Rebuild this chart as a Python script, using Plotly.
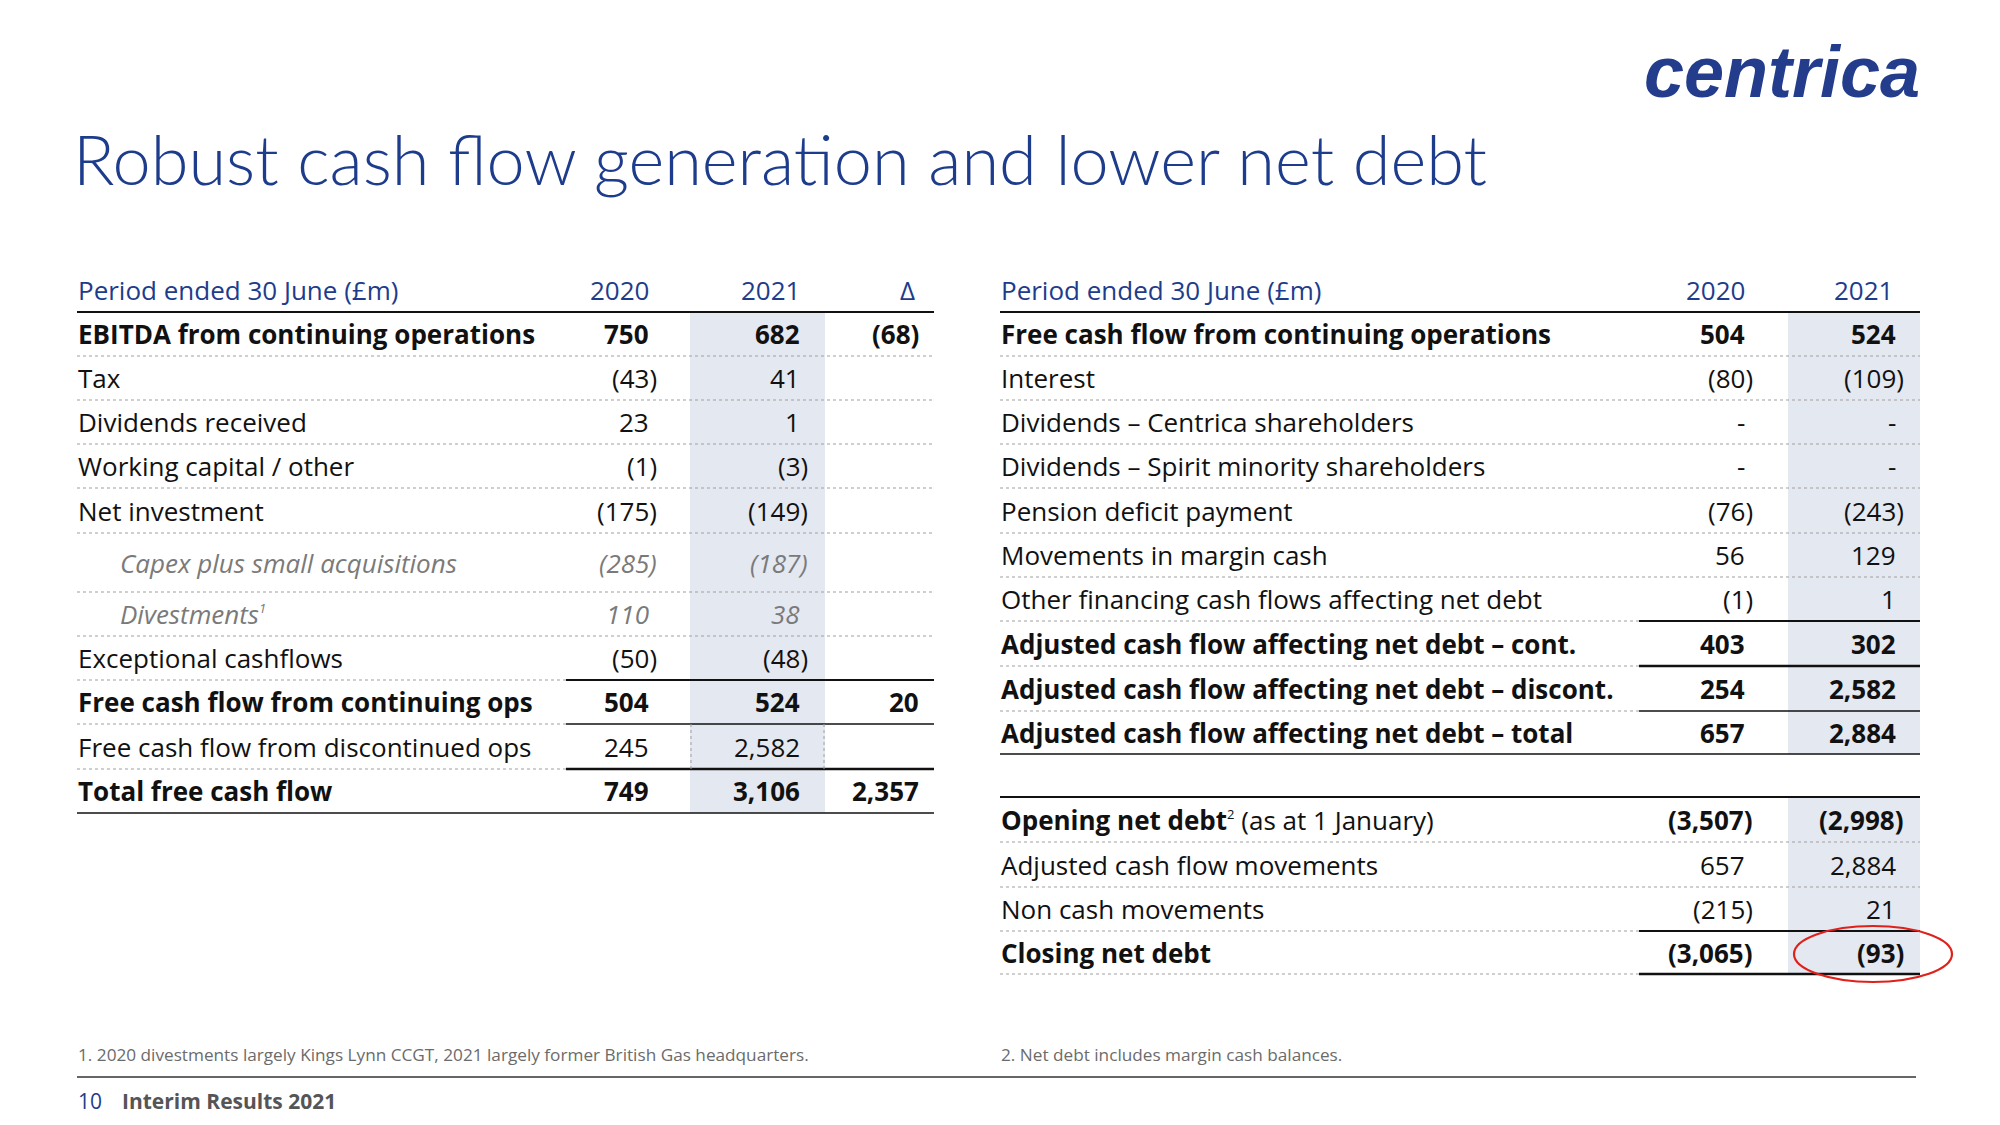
import plotly.graph_objects as go

# ---------------- data ----------------
title_text = "Robust cash flow generation and lower net debt"
header_label = "Period ended 30 June (£m)"
year_headers = ["2020", "2021"]
delta_header = "Δ"

SUP = '<sup><span style="font-size:13px">{}</span></sup>'

left_labels = [
    "EBITDA from continuing operations", "Tax", "Dividends received",
    "Working capital / other", "Net investment", "Capex plus small acquisitions",
    "Divestments" + SUP.format("1"), "Exceptional cashflows",
    "Free cash flow from continuing ops", "Free cash flow from discontinued ops",
    "Total free cash flow",
]
left_2020 = [750, -43, 23, -1, -175, -285, 110, -50, 504, 245, 749]
left_2021 = [682, 41, 1, -3, -149, -187, 38, -48, 524, 2582, 3106]
left_delta = [-68, None, None, None, None, None, None, None, 20, None, 2357]

right_labels = [
    "Free cash flow from continuing operations", "Interest",
    "Dividends – Centrica shareholders", "Dividends – Spirit minority shareholders",
    "Pension deficit payment", "Movements in margin cash",
    "Other financing cash flows affecting net debt",
    "Adjusted cash flow affecting net debt – cont.",
    "Adjusted cash flow affecting net debt – discont.",
    "Adjusted cash flow affecting net debt – total",
]
right_2020 = [504, -80, None, None, -76, 56, -1, 403, 254, 657]
right_2021 = [524, -109, None, None, -243, 129, 1, 302, 2582, 2884]

debt_labels = [
    "<b>Opening net debt</b>" + SUP.format("2") + " (as at 1 January)",
    "Adjusted cash flow movements", "Non cash movements", "Closing net debt",
]
debt_2020 = [-3507, 657, -215, -3065]
debt_2021 = [-2998, 2884, 21, -93]

footnote_1 = "1. 2020 divestments largely Kings Lynn CCGT, 2021 largely former British Gas headquarters."
footnote_2 = "2. Net debt includes margin cash balances."
page_number = "10"
footer_text = "Interim Results 2021"
logo_text = "centrica"

# ---------------- styles ----------------
left_styles = ["bold", "reg", "reg", "reg", "reg", "sub", "sub", "reg", "bold", "reg", "bold"]
left_rules = ["dot", "dot", "dot", "dot", "dot", "dot", "dot", "split", "split_thin", "split_thick", "solid"]
right_styles = ["bold", "reg", "reg", "reg", "reg", "reg", "reg", "bold", "bold", "bold"]
right_rules = ["dot", "dot", "dot", "dot", "dot", "dot", "split", "split_thick", "split_thin", "solid"]
debt_styles = ["boldval", "reg", "reg", "bold"]
debt_rules = ["dot", "dot", "split", "split_thick"]

FONT = "Open Sans"
NAVY = "#1d3c8c"
BLACK = "#111111"
GREY = "#7a7a7a"
SHADE = "#e4e8f0"
DOT = "#a0a0a0"
FS = 26

# geometry (pixels)
W, H = 2000, 1125
L_X0, L_X1, L_SPLIT = 77, 934, 566
L_C2020, L_C2021, L_CD = 650, 801, 920
L_SHADE = (690, 825)
L_BOUNDS = [312, 356, 400, 444, 488, 533, 592, 636, 680, 724, 769, 813]

R_X0, R_X1, R_SPLIT = 1000, 1920, 1639
R_C2020, R_C2021 = 1746, 1897
R_SHADE = (1788, 1920)
R_BOUNDS = [312, 356, 400, 444, 488, 533, 577, 621, 666, 711, 754]
D_BOUNDS = [797, 842, 887, 931, 974]
HEADER_Y = 290
PAREN = 8


def fmt(v):
    if v is None:
        return None
    s = f"{abs(v):,}"
    return f"({s})" if v < 0 else s


annotations = []
shapes = []


def text(x, y, t, size=FS, color=BLACK, anchor="left", family=FONT, weight=None):
    f = dict(family=family, size=size, color=color)
    if weight is not None:
        f["weight"] = weight
    annotations.append(dict(x=x, y=y, xref="x", yref="y", text=t, showarrow=False,
                            xanchor=anchor, yanchor="middle", font=f, borderpad=0))


def hline(x0, x1, y, width=1.0, color=BLACK, dash="solid"):
    shapes.append(dict(type="line", xref="x", yref="y", x0=x0, x1=x1, y0=y, y1=y,
                       line=dict(color=color, width=width, dash=dash), layer="above"))


def vline(x, y0, y1, width=1.0, color=DOT, dash="dot"):
    shapes.append(dict(type="line", xref="x", yref="y", x0=x, x1=x, y0=y0, y1=y1,
                       line=dict(color=color, width=width, dash=dash), layer="above"))


def number(col, y, v, style, blank="-"):
    s = fmt(v)
    if s is None:
        s = blank
        if not s:
            return
    x = col + (PAREN if s.endswith(")") else 0)
    if style == "sub":
        text(x, y, f"<i>{s}</i>", color=GREY, anchor="right")
    elif style in ("bold", "boldval"):
        text(x, y, f"<b>{s}</b>", anchor="right")
    else:
        text(x, y, s, anchor="right")


def rule(kind, x0, split, x1, y):
    if kind == "dot":
        hline(x0, x1, y, 1.2, DOT, "dot")
    elif kind == "solid":
        hline(x0, x1, y, 1.5)
    else:
        hline(x0, split, y, 1.2, DOT, "dot")
        w = {"split": 1.8, "split_thin": 1.3, "split_thick": 2.4}[kind]
        hline(split, x1, y, w)


# shaded 2021 columns
for (sx0, sx1), (sy0, sy1) in [(L_SHADE, (L_BOUNDS[0], L_BOUNDS[-1])),
                               (R_SHADE, (R_BOUNDS[0], R_BOUNDS[-1])),
                               (R_SHADE, (D_BOUNDS[0], D_BOUNDS[-1]))]:
    shapes.append(dict(type="rect", xref="x", yref="y", x0=sx0, x1=sx1, y0=sy0, y1=sy1,
                       fillcolor=SHADE, line=dict(width=0), layer="below"))

# ---- left table ----
text(L_X0, HEADER_Y, header_label, color=NAVY)
text(L_C2020, HEADER_Y, year_headers[0], color=NAVY, anchor="right")
text(L_C2021, HEADER_Y, year_headers[1], color=NAVY, anchor="right")
text(L_CD - 4, HEADER_Y, delta_header, color=NAVY, anchor="right")
hline(L_X0, L_X1, L_BOUNDS[0], 2.0)
for i, lab in enumerate(left_labels):
    y = (L_BOUNDS[i] + L_BOUNDS[i + 1]) / 2
    st = left_styles[i]
    if st == "bold":
        text(L_X0, y, f"<b>{lab}</b>")
    elif st == "sub":
        text(L_X0 + 42, y, f"<i>{lab}</i>", color=GREY)
    else:
        text(L_X0, y, lab)
    number(L_C2020, y, left_2020[i], st)
    number(L_C2021, y, left_2021[i], st)
    d = fmt(left_delta[i])
    if d:
        text(L_CD, y, f"<b>{d}</b>" if st == "bold" else d, anchor="right")
    rule(left_rules[i], L_X0, L_SPLIT, L_X1, L_BOUNDS[i + 1])

# dotted frame of the discontinued-ops 2021 cell
disc = left_labels.index("Free cash flow from discontinued ops")
vline(L_SHADE[0] + 1, L_BOUNDS[disc], L_BOUNDS[disc + 1])
vline(L_SHADE[1] - 1, L_BOUNDS[disc], L_BOUNDS[disc + 1])

# ---- right table ----
text(R_X0, HEADER_Y, header_label, color=NAVY)
text(R_C2020, HEADER_Y, year_headers[0], color=NAVY, anchor="right")
text(R_C2021 - 3, HEADER_Y, year_headers[1], color=NAVY, anchor="right")
hline(R_X0, R_X1, R_BOUNDS[0], 2.0)
for i, lab in enumerate(right_labels):
    y = (R_BOUNDS[i] + R_BOUNDS[i + 1]) / 2
    st = right_styles[i]
    text(R_X0, y, f"<b>{lab}</b>" if st == "bold" else lab)
    number(R_C2020, y, right_2020[i], st)
    number(R_C2021, y, right_2021[i], st)
    rule(right_rules[i], R_X0, R_SPLIT, R_X1, R_BOUNDS[i + 1])

hline(R_X0, R_X1, D_BOUNDS[0], 2.0)
for i, lab in enumerate(debt_labels):
    y = (D_BOUNDS[i] + D_BOUNDS[i + 1]) / 2
    st = debt_styles[i]
    text(R_X0, y, f"<b>{lab}</b>" if st == "bold" else lab)
    number(R_C2020, y, debt_2020[i], st)
    number(R_C2021, y, debt_2021[i], st)
    rule(debt_rules[i], R_X0, R_SPLIT, R_X1, D_BOUNDS[i + 1])

# red highlight ellipse around closing net debt 2021
shapes.append(dict(type="circle", xref="x", yref="y", x0=1794, x1=1952, y0=926, y1=982,
                   line=dict(color="#e0201b", width=2.2), layer="above"))

# ---- title, logo, footnotes, footer ----
text(72, 158, title_text, size=68.5, color=NAVY, family="Lato", weight=300)
text(1921, 72, f"<b><i>{logo_text}</i></b>", size=72, color="#233d8c", anchor="right",
     family="Liberation Sans")
text(L_X0, 1054, footnote_1, size=17.2, color="#6b6b6b")
text(R_X0, 1054, footnote_2, size=17.2, color="#6b6b6b")
hline(L_X0, 1916, 1077, 1.3, "#333333")
text(L_X0, 1101, page_number, size=21, color=NAVY)
text(121, 1101, f"<b>{footer_text}</b>", size=21, color="#555555")

fig = go.Figure()
fig.add_trace(go.Scatter(x=[], y=[], mode="markers", showlegend=False))
fig.update_layout(
    width=W, height=H, margin=dict(l=0, r=0, t=0, b=0),
    paper_bgcolor="white", plot_bgcolor="white",
    xaxis=dict(range=[0, W], visible=False, fixedrange=True),
    yaxis=dict(range=[H, 0], visible=False, fixedrange=True),
    annotations=annotations, shapes=shapes, showlegend=False,
)
fig.write_html("out.html", config={"displayModeBar": False},
               post_script="document.body.style.margin='0px';")
